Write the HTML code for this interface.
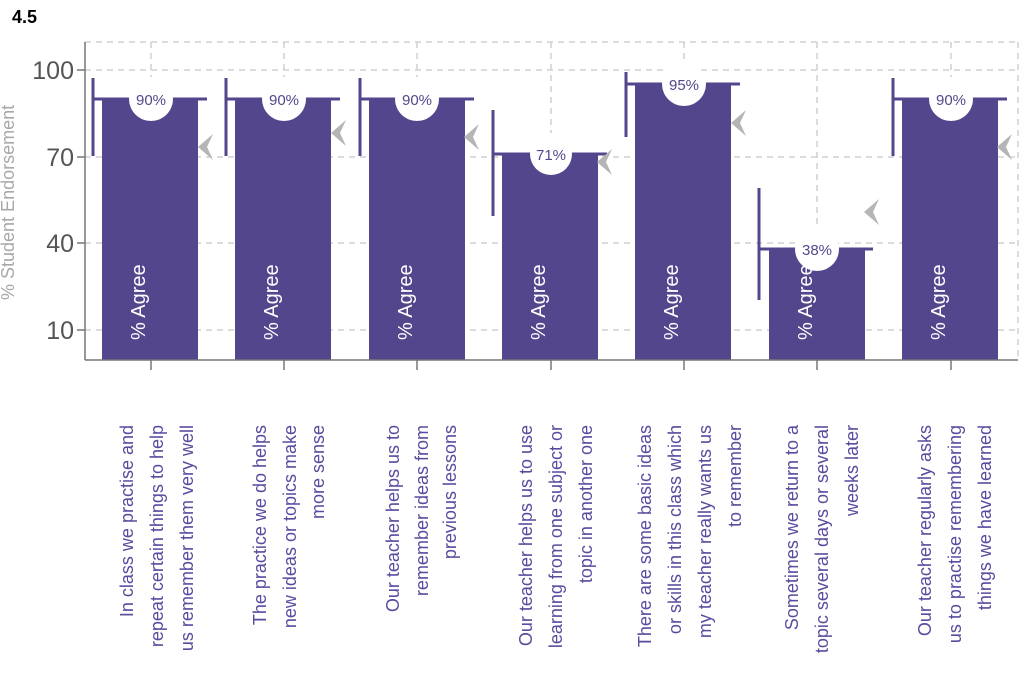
<!DOCTYPE html>
<html><head><meta charset="utf-8"><style>
html,body{margin:0;padding:0;background:#fff;}
svg{display:block;font-family:"Liberation Sans",Arial,sans-serif;}
</style></head><body>
<svg width="1024" height="697" viewBox="0 0 1024 697">
<text x="12" y="23" font-size="18" font-weight="bold" fill="#000">4.5</text>
<g stroke="#c8c8c8" stroke-width="1.3" stroke-dasharray="6,5" fill="none">
<line x1="85" y1="42" x2="1018" y2="42"/>
<line x1="1018" y1="42" x2="1018" y2="360"/>
<line x1="85" y1="70" x2="1018" y2="70"/>
<line x1="85" y1="157" x2="1018" y2="157"/>
<line x1="85" y1="243" x2="1018" y2="243"/>
<line x1="85" y1="330" x2="1018" y2="330"/>
<line x1="151" y1="42" x2="151" y2="360"/>
<line x1="284" y1="42" x2="284" y2="360"/>
<line x1="417" y1="42" x2="417" y2="360"/>
<line x1="551" y1="42" x2="551" y2="360"/>
<line x1="684" y1="42" x2="684" y2="360"/>
<line x1="817" y1="42" x2="817" y2="360"/>
<line x1="951" y1="42" x2="951" y2="360"/>
</g>
<g fill="#54468c">
<rect x="102" y="99" width="96" height="261"/>
<rect x="235" y="99" width="96" height="261"/>
<rect x="369" y="99" width="96" height="261"/>
<rect x="502" y="154" width="96" height="206"/>
<rect x="635" y="84" width="96" height="276"/>
<rect x="769" y="249" width="96" height="111"/>
<rect x="902" y="99" width="96" height="261"/>
</g>
<g stroke="#54468c" stroke-width="3" fill="none">
<path d="M93 78V156M93 99H207"/>
<path d="M226 78V156M226 99H340"/>
<path d="M360 78V156M360 99H474"/>
<path d="M493 110V216M493 154H607"/>
<path d="M626 72V137M626 84H740"/>
<path d="M759 188V300M759 249H873"/>
<path d="M893 78V156M893 99H1007"/>
</g>
<g fill="#fff">
<circle cx="151" cy="99" r="22"/><circle cx="284" cy="99" r="22"/><circle cx="417" cy="99" r="22"/>
<circle cx="551" cy="154" r="21"/><circle cx="684" cy="84" r="22"/><circle cx="817" cy="249" r="22"/><circle cx="951" cy="99" r="22"/>
</g>
<g font-size="15" fill="#54468c" text-anchor="middle">
<text x="151" y="105">90%</text><text x="284" y="105">90%</text><text x="417" y="105">90%</text>
<text x="551" y="160">71%</text><text x="684" y="90">95%</text><text x="817" y="255">38%</text><text x="951" y="105">90%</text>
</g>
<g fill="#b5b5b5">
<path d="M198 147l15-13-6 13 6 13z"/>
<path d="M331 133l15-13-6 13 6 13z"/>
<path d="M464 137l15-13-6 13 6 13z"/>
<path d="M597 162l15-13-6 13 6 13z"/>
<path d="M731 123l15-13-6 13 6 13z"/>
<path d="M864 212l15-13-6 13 6 13z"/>
<path d="M997 147l15-13-6 13 6 13z"/>
</g>
<g font-size="20" fill="#fff">
<text transform="translate(145,340) rotate(-90)">% Agree</text>
<text transform="translate(278,340) rotate(-90)">% Agree</text>
<text transform="translate(412,340) rotate(-90)">% Agree</text>
<text transform="translate(545,340) rotate(-90)">% Agree</text>
<text transform="translate(678,340) rotate(-90)">% Agree</text>
<text transform="translate(812,340) rotate(-90)">% Agree</text>
<text transform="translate(945,340) rotate(-90)">% Agree</text>
</g>
<g stroke="#777" stroke-width="1.5">
<line x1="85" y1="42" x2="85" y2="360"/>
<line x1="85" y1="360" x2="1018" y2="360"/>
<line x1="77" y1="70" x2="85" y2="70"/><line x1="77" y1="157" x2="85" y2="157"/>
<line x1="77" y1="243" x2="85" y2="243"/><line x1="77" y1="330" x2="85" y2="330"/>
<line x1="151" y1="360" x2="151" y2="370"/><line x1="284" y1="360" x2="284" y2="370"/>
<line x1="417" y1="360" x2="417" y2="370"/><line x1="551" y1="360" x2="551" y2="370"/>
<line x1="684" y1="360" x2="684" y2="370"/><line x1="817" y1="360" x2="817" y2="370"/>
<line x1="951" y1="360" x2="951" y2="370"/>
</g>
<g font-size="25" fill="#555" text-anchor="end">
<text x="74" y="79">100</text><text x="74" y="166">70</text><text x="74" y="252">40</text><text x="74" y="339">10</text>
</g>
<text transform="translate(14,300) rotate(-90)" font-size="18" fill="#a8a8a8">% Student Endorsement</text>
<g font-size="18" fill="#5b4a9e" text-anchor="end">
<text transform="translate(133,425) rotate(-90)">In class we practise and</text>
<text transform="translate(163,425) rotate(-90)">repeat certain things to help</text>
<text transform="translate(193,425) rotate(-90)">us remember them very well</text>
<text transform="translate(266,425) rotate(-90)">The practice we do helps</text>
<text transform="translate(296,425) rotate(-90)">new ideas or topics make</text>
<text transform="translate(324,425) rotate(-90)">more sense</text>
<text transform="translate(399,425) rotate(-90)">Our teacher helps us to</text>
<text transform="translate(428,425) rotate(-90)">remember ideas from</text>
<text transform="translate(456,425) rotate(-90)">previous lessons</text>
<text transform="translate(532,425) rotate(-90)">Our teacher helps us to use</text>
<text transform="translate(562,425) rotate(-90)">learning from one subject or</text>
<text transform="translate(592,425) rotate(-90)">topic in another one</text>
<text transform="translate(651,425) rotate(-90)">There are some basic ideas</text>
<text transform="translate(681,425) rotate(-90)">or skills in this class which</text>
<text transform="translate(711,425) rotate(-90)">my teacher really wants us</text>
<text transform="translate(741,425) rotate(-90)">to remember</text>
<text transform="translate(798,425) rotate(-90)">Sometimes we return to a</text>
<text transform="translate(828,425) rotate(-90)">topic several days or several</text>
<text transform="translate(858,425) rotate(-90)">weeks later</text>
<text transform="translate(931,425) rotate(-90)">Our teacher regularly asks</text>
<text transform="translate(961,425) rotate(-90)">us to practise remembering</text>
<text transform="translate(991,425) rotate(-90)">things we have learned</text>
</g>
</svg>
</body></html>
